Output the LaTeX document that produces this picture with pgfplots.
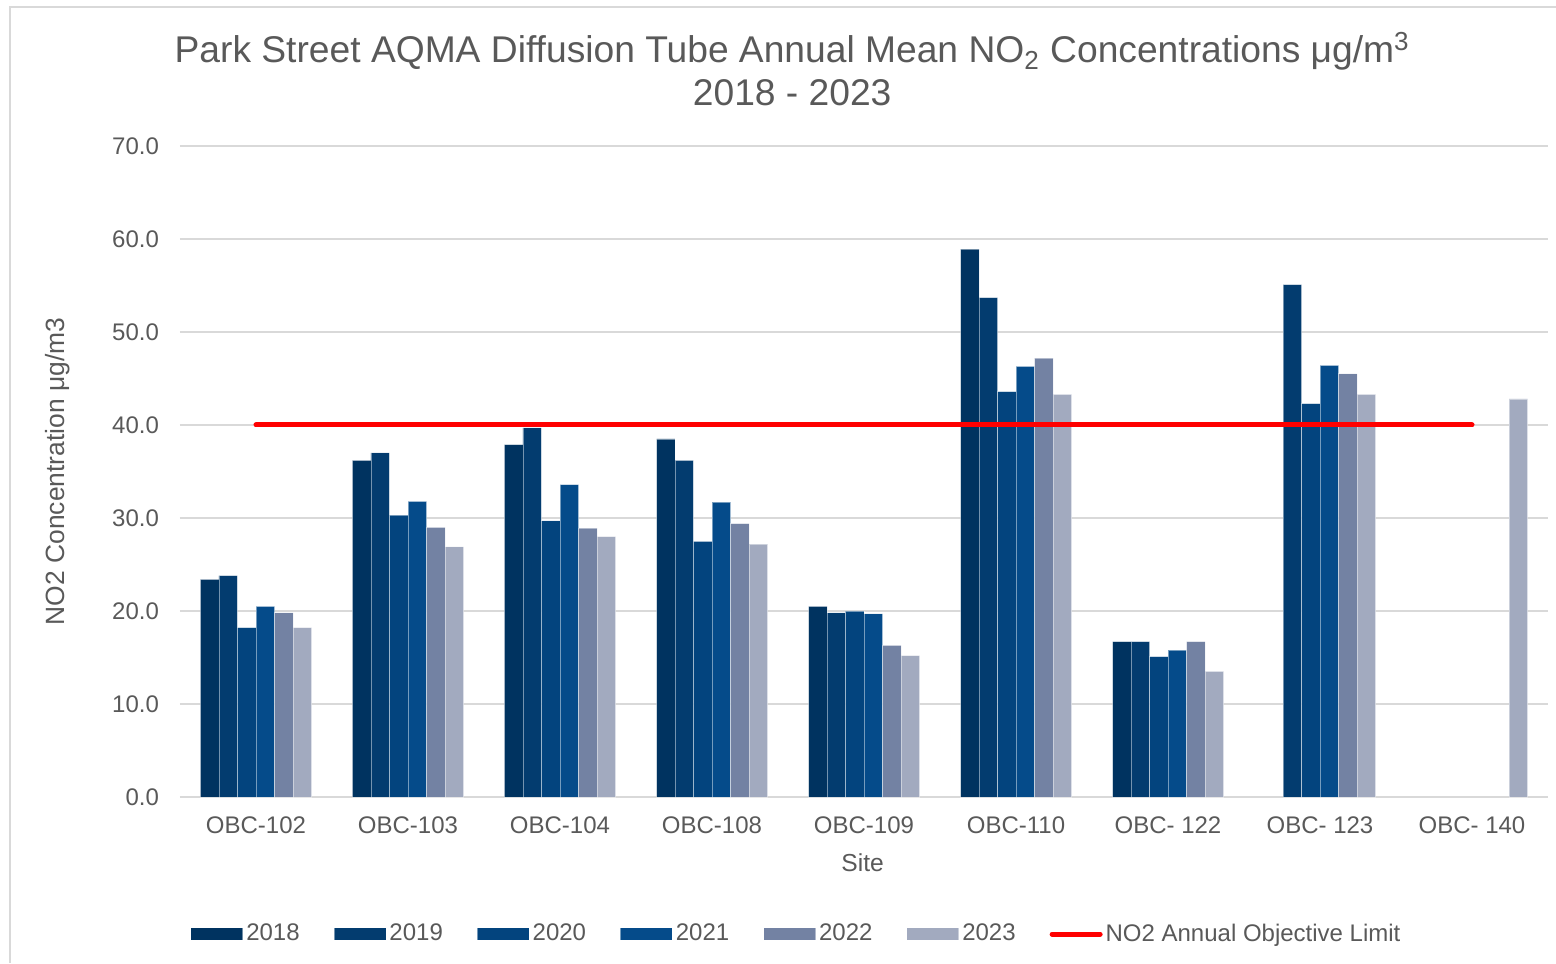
\documentclass[border=0pt]{standalone}
\usepackage{fontspec}
\setmainfont{Liberation Sans}
\usepackage{pgfplots}
\pgfplotsset{compat=1.18}
\definecolor{cA}{HTML}{003360}
\definecolor{cB}{HTML}{033C6F}
\definecolor{cC}{HTML}{03447E}
\definecolor{cD}{HTML}{054B8A}
\definecolor{cE}{HTML}{7382A3}
\definecolor{cF}{HTML}{A2AABF}
\definecolor{txt}{HTML}{595959}
\definecolor{grd}{HTML}{D9D9D9}
\begin{document}
\begin{tikzpicture}
\path[use as bounding box] (-90pt,-83pt) rectangle (688pt,398.5pt);
\draw[grd, line width=0.8pt] (-85pt,-83pt) -- (-85pt,395pt) -- (688pt,395pt);
\begin{axis}[
  scale only axis,
  width=684pt, height=325.5pt,
  ybar=0pt,
  bar width=0.1217,
  xmin=-0.5, xmax=8.5,
  ymin=0, ymax=70,
  xtick={0,...,8},
  xticklabels={OBC-102,OBC-103,OBC-104,OBC-108,OBC-109,OBC-110,OBC- 122,OBC- 123,OBC- 140},
  ytick={0,10,...,70},
  yticklabel={\pgfmathprintnumber[fixed,fixed zerofill,precision=1]{\tick}},
  /pgf/number format/assume math mode=true,
  ymajorgrids,
  grid style={grd, line width=0.9pt},
  axis line style={draw=none},
  major tick length=0pt,
  tick label style={font=\fontsize{12}{14}\selectfont, text=txt},
  xticklabel style={yshift=-6.5pt},
  yticklabel style={xshift=-7pt},
  xlabel={Site},
  xlabel style={at={(axis description cs:0.499,-0.1014)}, anchor=center, font=\fontsize{12.3}{14}\selectfont, text=txt},
  ylabel={NO2 Concentration μg/m3},
  ylabel style={at={(axis description cs:-0.0892,0.5)}, anchor=center, rotate=0, font=\fontsize{13.2}{15}\selectfont, text=txt},
  title={Park Street AQMA Diffusion Tube Annual Mean NO\textsubscript{2} Concentrations μg/m\textsuperscript{3}\\2018 - 2023},
  title style={at={(axis description cs:0.4475,1.0996)}, anchor=center, align=center, font=\fontsize{18.6}{21.5}\selectfont, text=txt},
  legend columns=7,
  legend style={at={(axis description cs:0.451,-0.2105)}, anchor=center, draw=none, fill=none,
    font=\fontsize{12}{14}\selectfont, text=txt,
    /tikz/every even column/.append style={column sep=15.5pt},
    nodes={inner sep=1.5pt}},
  legend image code/.code={\fill[#1] (0pt,-3.2pt) rectangle (26pt,3.2pt);},
  every axis plot/.append style={draw=white, draw opacity=0.45, line width=0.4pt},
]
\addplot[fill=cA, bar shift=-0.3043] coordinates {(0,23.4)(1,36.2)(2,37.9)(3,38.5)(4,20.5)(5,58.9)(6,16.7)};
\addlegendentry{2018}
\addplot[fill=cB, bar shift=-0.1826] coordinates {(0,23.8)(1,37.0)(2,39.7)(3,36.2)(4,19.8)(5,53.7)(6,16.7)(7,55.1)};
\addlegendentry{2019}
\addplot[fill=cC, bar shift=-0.0609] coordinates {(0,18.2)(1,30.3)(2,29.7)(3,27.5)(4,20.0)(5,43.6)(6,15.1)(7,42.3)};
\addlegendentry{2020}
\addplot[fill=cD, bar shift=0.0609] coordinates {(0,20.5)(1,31.8)(2,33.6)(3,31.7)(4,19.7)(5,46.3)(6,15.8)(7,46.4)};
\addlegendentry{2021}
\addplot[fill=cE, bar shift=0.1826] coordinates {(0,19.8)(1,29.0)(2,28.9)(3,29.4)(4,16.3)(5,47.2)(6,16.7)(7,45.5)};
\addlegendentry{2022}
\addplot[fill=cF, bar shift=0.3043] coordinates {(0,18.2)(1,26.9)(2,28.0)(3,27.2)(4,15.2)(5,43.3)(6,13.5)(7,43.3)(8,42.8)};
\addlegendentry{2023}
\addplot[sharp plot, draw=red, draw opacity=1, line width=2.5pt, line cap=round,
  legend image code/.code={\draw[red, line width=2.5pt, line cap=round] (1pt,0pt) -- (25pt,0pt);}]
  coordinates {(0,40)(8,40)};
\addlegendentry{NO2 Annual Objective Limit}
\end{axis}
\end{tikzpicture}
\end{document}
